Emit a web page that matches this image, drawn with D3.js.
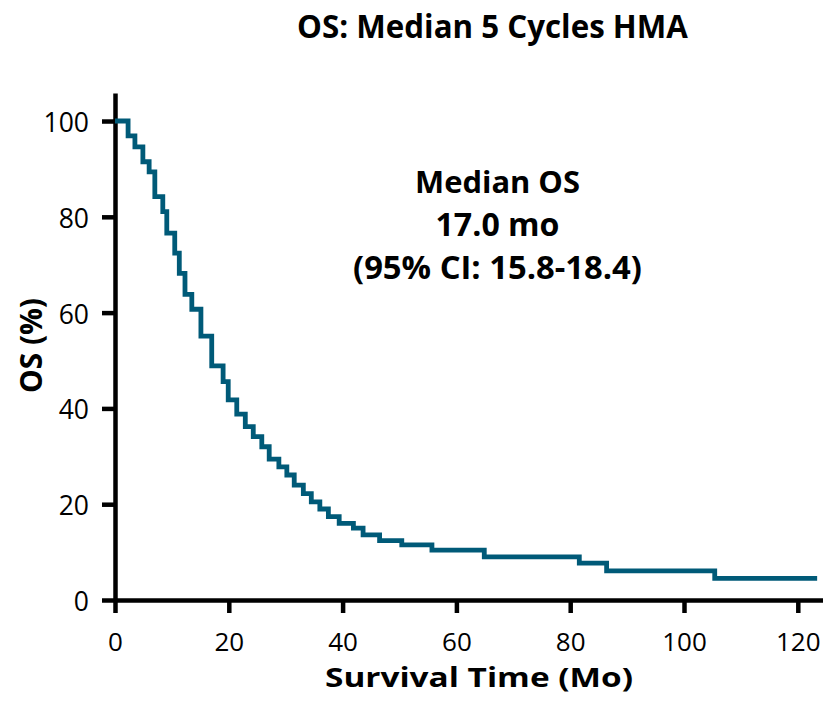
<!DOCTYPE html>
<html>
<head>
<meta charset="utf-8">
<script src="https://cdn.jsdelivr.net/npm/d3@7/dist/d3.min.js"></script>
<style>
  html, body { margin: 0; padding: 0; background: #ffffff; }
  svg { display: block; }
  text { font-family: "Open Sans", "Liberation Sans", sans-serif; fill: #000; }
</style>
</head>
<body>
<svg id="chart" width="823" height="701"></svg>
<script>
// ---- data ----
const titleText = "OS: Median 5 Cycles HMA";
const xLabel = "Survival Time (Mo)";
const yLabel = "OS (%)";
const annotationLines = ["Median OS", "17.0 mo", "(95% CI: 15.8-18.4)"];
const xTicks = [0, 20, 40, 60, 80, 100, 120];
const yTicks = [0, 20, 40, 60, 80, 100];
// Kaplan-Meier step points: time (months) at which survival drops to the value
const times = [0, 2.3, 3.5, 4.9, 6.0, 7.0, 8.4, 9.1, 10.5, 11.3, 12.3, 13.5, 15.1, 17.0, 19.0, 19.9,
  21.4, 22.9, 24.3, 25.8, 27.1, 28.8, 30.2, 31.5, 33.1, 34.5, 36.0, 37.5, 39.4, 41.9, 43.6,
  46.5, 50.4, 55.7, 64.9, 81.6, 86.4, 105.4, 123.4];
const survival = [100, 96.9, 94.6, 91.5, 89.4, 84.2, 81.1, 76.6, 72.4, 68.2, 63.8, 60.7, 55.1, 48.9, 45.6,
  41.8, 38.8, 36.2, 34.1, 32.0, 29.4, 27.8, 26.1, 24.0, 22.2, 20.5, 19.0, 17.4, 16.0, 15.0,
  13.6, 12.4, 11.5, 10.4, 9.0, 7.7, 6.1, 4.5, 4.5];

const svg = d3.select("#chart");

const x = d3.scaleLinear().domain([0, 124.5]).range([115, 115 + 124.5 * 5.69]);
const y = d3.scaleLinear().domain([0, 105.85]).range([600, 93]);

const axisColor = "#000";
const axisWidth = 4.5;

// x axis
const gx = svg.append("g").attr("transform", "translate(0,600)")
  .call(d3.axisBottom(x).tickValues(xTicks).tickSize(13).tickSizeOuter(0).tickFormat(d3.format("d")));
gx.select(".domain").attr("stroke", axisColor).attr("stroke-width", axisWidth);
gx.selectAll(".tick line").attr("stroke", axisColor).attr("stroke-width", axisWidth);
gx.selectAll(".tick text").attr("dy", null).attr("y", 50.5)
  .style("font-size", "26px").style("font-family", "'Open Sans', sans-serif").attr("fill", "#000");

// y axis
const gy = svg.append("g").attr("transform", "translate(115,0)")
  .call(d3.axisLeft(y).tickValues(yTicks).tickSize(13).tickSizeOuter(0).tickFormat(d3.format("d")));
gy.select(".domain").attr("stroke", axisColor).attr("stroke-width", axisWidth);
gy.selectAll(".tick line").attr("stroke", axisColor).attr("stroke-width", axisWidth);
gy.selectAll(".tick text").attr("dy", null).attr("x", -26).attr("y", 10.5)
  .style("font-size", "26.5px").style("font-family", "'Open Sans', sans-serif").attr("fill", "#000");

// KM curve
const pts = times.map((t, i) => [t, survival[i]]);
const line = d3.line().x(d => x(d[0])).y(d => y(d[1])).curve(d3.curveStepAfter);
svg.append("path").datum(pts)
  .attr("d", line)
  .attr("fill", "none")
  .attr("stroke", "#005a78")
  .attr("stroke-width", 4.8)
  .attr("stroke-linejoin", "miter")
  .attr("stroke-linecap", "butt");

// helper: fit bold text to a target width
function fitText(sel, target) {
  const w = sel.node().getComputedTextLength();
  const fs = parseFloat(sel.style("font-size"));
  sel.style("font-size", (fs * target / w) + "px");
}

// title
const title = svg.append("text").attr("x", 492.5).attr("y", 38).attr("text-anchor", "middle")
  .style("font-weight", "700").style("font-size", "30px").text(titleText);
fitText(title, 391);

// annotation
const annBase = [193, 236, 279];
const annWidths = [165, 124, 289];
annotationLines.forEach((s, i) => {
  const t = svg.append("text").attr("x", 497.5).attr("y", annBase[i]).attr("text-anchor", "middle")
    .style("font-weight", "700").style("font-size", "30px").text(s);
  fitText(t, annWidths[i]);
});

// x label (stretched to reference width, kept clear of tick labels)
svg.append("text").attr("x", 479).attr("y", 686.5).attr("text-anchor", "middle")
  .style("font-weight", "700").style("font-size", "26.5px")
  .attr("textLength", 308).attr("lengthAdjust", "spacingAndGlyphs")
  .text(xLabel);

// y label
const yl = svg.append("text").attr("transform", "translate(42,345.5) rotate(-90)").attr("text-anchor", "middle")
  .style("font-weight", "700").style("font-size", "30px").text(yLabel);
fitText(yl, 95);
</script>
</body>
</html>
